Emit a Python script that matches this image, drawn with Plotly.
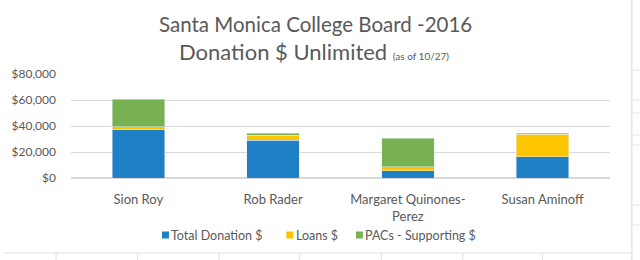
import plotly.graph_objects as go

candidates = ["Sion Roy", "Rob Rader", "Margaret Quinones-<br>Perez", "Susan Aminoff"]
total_donation = [37000, 29000, 5400, 16400]
loans = [2500, 3700, 3100, 17400]
pacs = [21000, 1800, 22000, 600]
series_names = ["Total Donation $", "Loans $", "PACs - Supporting $"]
series_colors = ["#1f80c6", "#fcc500", "#78b151"]
y_ticks = [0, 20000, 40000, 60000, 80000]
y_tick_labels = ["$0", "$20,000", "$40,000", "$60,000", "$80,000"]

W, H = 640, 260
ML, MR, MT, MB = 68, 30, 74, 82
PW, PH = W - ML - MR, H - MT - MB

def px(x):
    return (x - ML) / PW

def py(y):
    return (H - MB - y) / PH

font = "Lato, 'Open Sans', sans-serif"
gray = "#595959"

fig = go.Figure()
for name, vals, col in zip(series_names, [total_donation, loans, pacs], series_colors):
    fig.add_trace(go.Bar(name=name, x=candidates, y=vals, marker_color=col, showlegend=False))

shapes = []
# spreadsheet frame artifacts
shapes.append(dict(type="line", xref="paper", yref="paper", x0=px(632), x1=px(632), y0=py(0), y1=py(260),
                   line=dict(color="#d8d8d8", width=1)))
shapes.append(dict(type="line", xref="paper", yref="paper", x0=px(0), x1=px(632), y0=py(253), y1=py(253),
                   line=dict(color="#e0e0e0", width=1)))
for xv in [53, 135, 217, 298, 380, 462, 542]:
    shapes.append(dict(type="line", xref="paper", yref="paper", x0=px(xv), x1=px(xv), y0=py(253), y1=py(260),
                       line=dict(color="#e0e0e0", width=1)))
for yv in [70, 100, 113, 135, 145, 205, 225]:
    shapes.append(dict(type="line", xref="paper", yref="paper", x0=px(633), x1=px(640), y0=py(yv), y1=py(yv),
                       line=dict(color="#e4e4e4", width=1)))

annotations = [
    dict(text="Santa Monica College Board -2016", xref="paper", yref="paper", x=px(314), y=py(37),
         xanchor="center", yanchor="bottom", showarrow=False, borderpad=0,
         font=dict(family=font, size=20.5, color=gray)),
    dict(text="Donation $ Unlimited <span style='font-size:10px'>(as of 10/27)</span>", xref="paper", yref="paper",
         x=px(312), y=py(37), xanchor="center", yanchor="top", showarrow=False, borderpad=0,
         font=dict(family=font, size=22, color=gray)),
]

# custom legend
legend_sq_x = [163, 288, 358]
for name, col, sx in zip(series_names, series_colors, legend_sq_x):
    shapes.append(dict(type="rect", xref="paper", yref="paper", x0=px(sx - 3.5), x1=px(sx + 3.5),
                       y0=py(238.5), y1=py(231.5), fillcolor=col, line=dict(width=0)))
    annotations.append(dict(text=name, xref="paper", yref="paper", x=px(sx + 4), y=py(235),
                            xanchor="left", yanchor="middle", showarrow=False,
                            font=dict(family=font, size=12.5, color=gray)))

fig.update_layout(
    width=W, height=H,
    margin=dict(l=ML, r=MR, t=MT, b=MB),
    paper_bgcolor="white", plot_bgcolor="white",
    barmode="stack", bargap=0.61,
    font=dict(family=font, color=gray, size=12),
    showlegend=False,
    xaxis=dict(showline=False, ticks="", tickfont=dict(size=13, color=gray), showgrid=False,
               ticklabelstandoff=12),
    yaxis=dict(range=[0, 80000], tickvals=y_ticks, ticktext=y_tick_labels, showgrid=True,
               gridcolor="#d9d9d9", gridwidth=1, zeroline=True, zerolinecolor="#d9d9d9",
               tickfont=dict(size=12, color=gray), ticks="", ticklabelstandoff=14),
    shapes=shapes,
    annotations=annotations,
)

fig.write_html("out.html")
